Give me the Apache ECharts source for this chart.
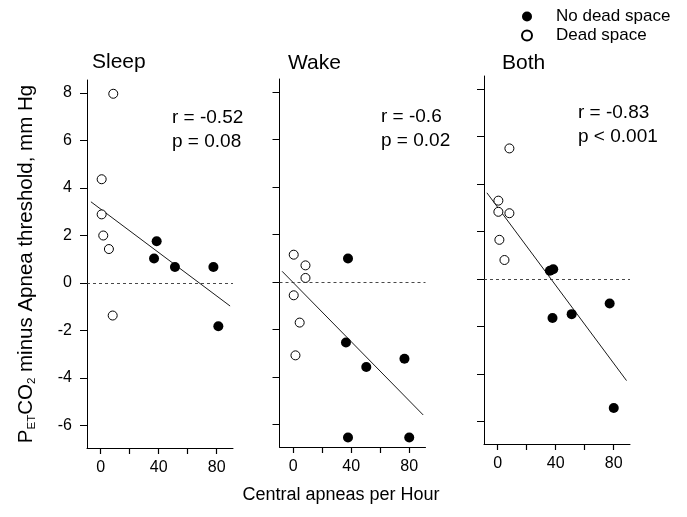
<!DOCTYPE html>
<html>
<head>
<meta charset="utf-8">
<script src="https://cdn.jsdelivr.net/npm/echarts@6/dist/echarts.min.js"></script>
<style>
html,body{margin:0;padding:0;background:#fff;}
#c{width:687px;height:517px;}
</style>
</head>
<body>
<div id="c"></div>
<script>
// ---- data ----
const panelTitles = ['Sleep', 'Wake', 'Both'];
const xTicks = [0, 40, 80];
const xAllTicks = [0, 20, 40, 60, 80];
const yTicks = [-6, -4, -2, 0, 2, 4, 6, 8];
const legendNames = ['No dead space', 'Dead space'];

const sleepFilled = [[38.6, 1.76], [36.8, 1.03], [51.2, 0.67], [77.7, 0.67], [81.1, -1.82]];
const sleepOpen = [[8.7, 7.97], [0.7, 4.37], [0.7, 2.89], [1.8, 2.0], [5.7, 1.43], [8.3, -1.37]];
const sleepFit = [[-6.7, 3.42], [89.2, -0.97]];
const sleepStats = ['r = -0.52', 'p = 0.08'];

const wakeFilled = [[37.8, 0.99], [36.4, -2.55], [50.4, -3.58], [76.7, -3.23], [37.8, -6.55], [80.0, -6.55]];
const wakeOpen = [[0.4, 1.15], [8.5, 0.70], [8.5, 0.17], [0.4, -0.56], [4.5, -1.71], [1.6, -3.09]];
const wakeFit = [[-7.6, 0.45], [89.6, -5.6]];
const wakeStats = ['r = -0.6', 'p = 0.02'];

const bothFilled = [[36.0, 0.35], [38.3, 0.41], [37.8, -1.64], [51.0, -1.48], [77.2, -1.03], [80.0, -5.43]];
const bothOpen = [[8.1, 5.5], [0.5, 3.3], [0.5, 2.83], [8.1, 2.77], [1.2, 1.65], [4.7, 0.8]];
const bothFit = [[-7.4, 3.63], [88.8, -4.28]];
const bothStats = ['r = -0.83', 'p < 0.001'];

const xLabel = 'Central apneas per Hour';

// ---- layout ----
const FONT = '"Liberation Sans", Arial, Helvetica, sans-serif';
const xMin = -9.4, xMax = 91.2, yMin = -6.95, yMax = 8.55;
const panelGrids = [
  {left: 87, top: 80, width: 146, height: 368},
  {left: 279.5, top: 79, width: 146, height: 368},
  {left: 484, top: 76, width: 146, height: 368}
];
const filledSets = [sleepFilled, wakeFilled, bothFilled];
const openSets = [sleepOpen, wakeOpen, bothOpen];
const fitSets = [sleepFit, wakeFit, bothFit];
const statSets = [sleepStats, wakeStats, bothStats];
const statPos = [[172, 118], [381, 117], [578, 113]];
const titlePos = [[92, 62], [288, 63], [502, 63]];

const grids = [], xAxes = [], yAxes = [], series = [], graphics = [];
panelGrids.forEach((g, i) => {
  grids[i] = Object.assign({containLabel: false}, g);

  xAxes[i] = {
    gridIndex: i, type: 'value', min: xMin, max: xMax, position: 'bottom',
    axisLine: {show: true, onZero: false, lineStyle: {color: '#000', width: 1}},
    axisTick: {show: true, customValues: xAllTicks, length: 6, lineStyle: {color: '#000', width: 1.2}},
    axisLabel: {show: true, customValues: xTicks, margin: 12, color: '#000', fontSize: 16, fontFamily: FONT},
    splitLine: {show: false}
  };
  const yAx = {
    gridIndex: i, type: 'value', min: yMin, max: yMax, position: 'left',
    axisLine: {show: true, onZero: false, lineStyle: {color: '#000', width: 1}},
    axisTick: {show: true, customValues: yTicks, length: 7, lineStyle: {color: '#000', width: 1}},
    axisLabel: {show: i === 0, customValues: yTicks, margin: 15, color: '#000', fontSize: 16, fontFamily: FONT},
    splitLine: {show: false}
  };
  if (i === 0) {
    yAx.name = '{a|P}{s|ET}{a|CO}{s|2}{a| minus Apnea threshold, mm Hg}';
    yAx.nameLocation = 'middle';
    yAx.nameRotate = 90;
    yAx.nameGap = 49;
    yAx.nameTextStyle = {
      color: '#000', fontFamily: FONT, fontSize: 20.5,
      rich: {
        a: {fontSize: 20.5, fontFamily: FONT, color: '#000', lineHeight: 23},
        s: {fontSize: 11.5, fontFamily: FONT, color: '#000', lineHeight: 6, verticalAlign: 'bottom'}
      }
    };
  }
  yAxes[i] = yAx;

  series.push({
    name: 'fit' + i, type: 'line', xAxisIndex: i, yAxisIndex: i,
    data: fitSets[i], symbol: 'none', silent: true, z: 1,
    lineStyle: {color: '#000', width: 0.9},
    markLine: {
      symbol: 'none', silent: true, label: {show: false},
      lineStyle: {color: '#333', width: 0.9, type: [3, 3]},
      data: [{yAxis: 0}]
    }
  });
  series.push({
    name: legendNames[0], type: 'scatter', xAxisIndex: i, yAxisIndex: i,
    data: filledSets[i], symbol: 'circle', symbolSize: 10, z: 3,
    itemStyle: {color: '#000', borderColor: '#000', borderWidth: 0, opacity: 1}
  });
  series.push({
    name: legendNames[1], type: 'scatter', xAxisIndex: i, yAxisIndex: i,
    data: openSets[i], symbol: 'circle', symbolSize: 9, z: 3,
    itemStyle: {color: '#fff', borderColor: '#000', borderWidth: 1, opacity: 1}
  });

  graphics.push({
    type: 'text', x: titlePos[i][0], y: titlePos[i][1],
    style: {text: panelTitles[i], font: '21px ' + FONT, fill: '#000', align: 'left', verticalAlign: 'middle'}
  });
  statSets[i].forEach((s, k) => {
    graphics.push({
      type: 'text', x: statPos[i][0], y: statPos[i][1] + k * 23.5,
      style: {text: s, font: '19px ' + FONT, fill: '#000', align: 'left', verticalAlign: 'middle'}
    });
  });
});

graphics.push({
  type: 'text', x: 341, y: 495,
  style: {text: xLabel, font: '18px ' + FONT, fill: '#000', align: 'center', verticalAlign: 'middle'}
});

const chart = echarts.init(document.getElementById('c'), null, {renderer: 'canvas'});
chart.setOption({
  animation: false,
  backgroundColor: '#fff',
  grid: grids,
  xAxis: xAxes,
  yAxis: yAxes,
  legend: {
    data: legendNames, orient: 'vertical', left: 521, top: 8, padding: 0,
    itemWidth: 10, itemHeight: 10, itemGap: 2, icon: 'circle',
    selectedMode: false,
    textStyle: {color: '#000', fontSize: 17, fontFamily: FONT, padding: [0, 0, 0, 19]}
  },
  graphic: graphics,
  series: series
});
</script>
</body>
</html>
